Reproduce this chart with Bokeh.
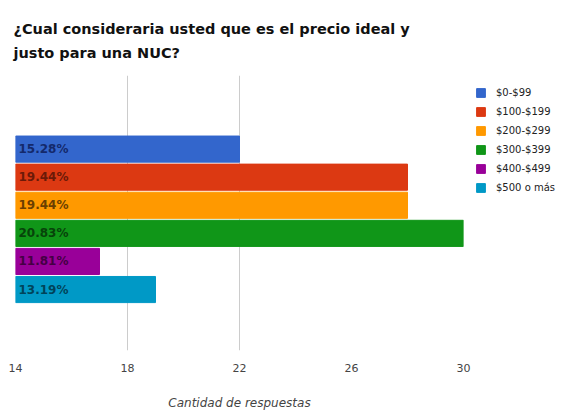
from bokeh.plotting import figure
from bokeh.models import ColumnDataSource, Range1d, FixedTicker, Title, Legend, LegendItem
from bokeh.core.properties import value
from bokeh.embed import file_html
from bokeh.resources import INLINE

categories = ["$0-$99", "$100-$199", "$200-$299", "$300-$399", "$400-$499", "$500 o más"]
counts = [22, 28, 28, 30, 17, 19]
pct_labels = ["15.28%", "19.44%", "19.44%", "20.83%", "11.81%", "13.19%"]
colors = ["#3366CC", "#DC3912", "#FF9900", "#109618", "#990099", "#0099C6"]
label_colors = ["#14296b", "#6b1a08", "#6b3f00", "#07430a", "#440044", "#00445a"]
x_ticks = [14, 18, 22, 26, 30]
grid_ticks = [18, 22, 30]
x_start = 14
title_text = "¿Cual consideraria usted que es el precio ideal y\njusto para una NUC?"

FONT = "DejaVu Sans"

src = ColumnDataSource(dict(
    cat=categories,
    y=list(range(len(categories))),
    left=[x_start] * len(categories),
    count=counts,
    color=colors,
    lab=pct_labels,
    lab_color=label_colors,
))

p = figure(frame_width=448, frame_height=275, output_backend="svg", toolbar_location=None,
           x_range=Range1d(14, 30), y_range=Range1d(7.17, -2.62),
           min_border_left=15, min_border_right=108, min_border_top=75,
           min_border_bottom=61)
p.outline_line_color = None
p.background_fill_color = "white"
p.border_fill_color = "white"

r = p.hbar(y="y", left="left", right="count", height=0.93, color="color",
           line_color="color", source=src)
p.text(x="left", y="y", text="lab", text_color="lab_color", source=src,
       x_offset=3, text_baseline="middle", text_font_size="12px",
       text_font_style="bold", text_font=value(FONT))

legend = Legend(items=[LegendItem(label={"field": "cat"}, renderers=[r])], location="top_left")
legend.margin = 12
legend.padding = 3
legend.border_line_color = None
legend.background_fill_alpha = 0
legend.glyph_width = 11
legend.glyph_height = 11
legend.label_height = 11
legend.spacing = 8
legend.label_standoff = 10
legend.label_text_font_size = "10px"
legend.label_text_font = FONT
legend.label_text_color = "#222222"
p.add_layout(legend, "right")

p.yaxis.visible = False
p.ygrid.visible = False
p.xaxis.ticker = FixedTicker(ticks=x_ticks)
p.xgrid.ticker = FixedTicker(ticks=grid_ticks)
p.xgrid.grid_line_color = "#cccccc"
p.xaxis.axis_line_color = None
p.xaxis.major_tick_line_color = None
p.xaxis.minor_tick_line_color = None
p.xaxis.major_label_text_font_size = "11px"
p.xaxis.major_label_text_font = FONT
p.xaxis.major_label_text_color = "#444444"
p.xaxis.major_label_standoff = 7
p.xaxis.axis_label = "Cantidad de respuestas"
p.xaxis.axis_label_text_font_size = "12px"
p.xaxis.axis_label_text_font = FONT
p.xaxis.axis_label_text_font_style = "italic"
p.xaxis.axis_label_text_color = "#444444"
p.xaxis.axis_label_standoff = 21

p.add_layout(Title(text=title_text, text_font_size="14.5px", text_font=FONT,
                   text_font_style="bold", text_color="#111111", text_line_height=1.5,
                   standoff=30, offset=-2), "above")

open("out.html", "w").write(file_html(p, INLINE))
